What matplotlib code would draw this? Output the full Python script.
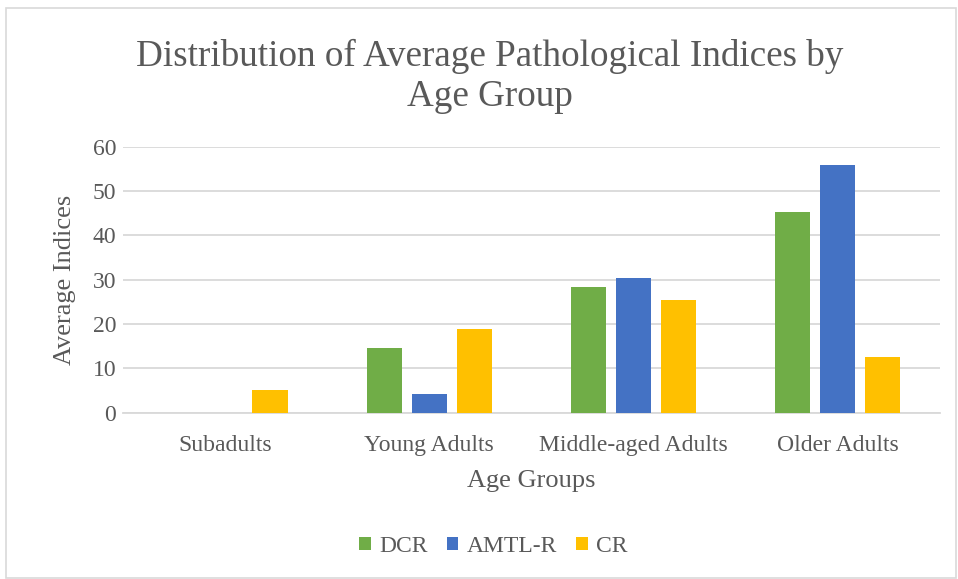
import matplotlib.pyplot as plt
import numpy as np
from matplotlib.patches import Rectangle

plt.rcParams['font.family'] = ['Liberation Serif', 'DejaVu Serif']

groups = ["Subadults", "Young Adults", "Middle-aged Adults", "Older Adults"]
series = ["DCR", "AMTL-R", "CR"]
dcr = [0, 14.5, 28.4, 45.3]
amtl_r = [0, 4.3, 30.4, 55.8]
cr = [5.1, 18.9, 25.4, 12.6]
colors = ["#70ad47", "#4472c4", "#ffc000"]
text_col = "#595959"

fig = plt.figure(figsize=(9.58, 5.79), dpi=100)
fig.patches.append(Rectangle((0.006, 0.002), 0.992, 0.985, transform=fig.transFigure,
                             fill=False, edgecolor="#d9d9d9", linewidth=1.2))

ax = fig.add_axes([0.1284, 0.2872, 0.8526, 0.4594])
x = np.arange(len(groups))
w = 0.172
step = 0.22
for i, (vals, name) in enumerate(zip([dcr, amtl_r, cr], series)):
    ax.bar(x + (i - 1) * step, vals, width=w, color=colors[i], label=name, zorder=3)

ax.set_xlim(-0.5, len(groups) - 0.5)
ax.set_ylim(0, 60)
ax.set_yticks(range(0, 61, 10))
ax.grid(axis="y", color="#d9d9d9", linewidth=1.3, zorder=0)
for s in ["top", "right", "left"]:
    ax.spines[s].set_visible(False)
ax.spines["bottom"].set_color("#d9d9d9")
ax.spines["bottom"].set_linewidth(1.3)
ax.tick_params(length=0, labelsize=17, colors=text_col)
ax.tick_params(axis="y", pad=5)
ax.tick_params(axis="x", pad=16)
ax.set_xticks(x)
ax.set_xticklabels(groups)
ax.set_xlabel("Age Groups", fontsize=19, color=text_col, labelpad=10)
ax.set_ylabel("Average Indices", fontsize=19, color=text_col, labelpad=12)

fig.text(0.511, 0.868, "Distribution of Average Pathological Indices by\nAge Group",
         ha="center", va="center", fontsize=26.7, color=text_col, linespacing=1.2)

fig.legend(loc="center", bbox_to_anchor=(0.515, 0.056), ncol=3, frameon=False,
           fontsize=17, labelcolor=text_col, handlelength=0.5, handleheight=0.5,
           handletextpad=0.35, columnspacing=0.8)

fig.savefig("out.png", dpi=100)
